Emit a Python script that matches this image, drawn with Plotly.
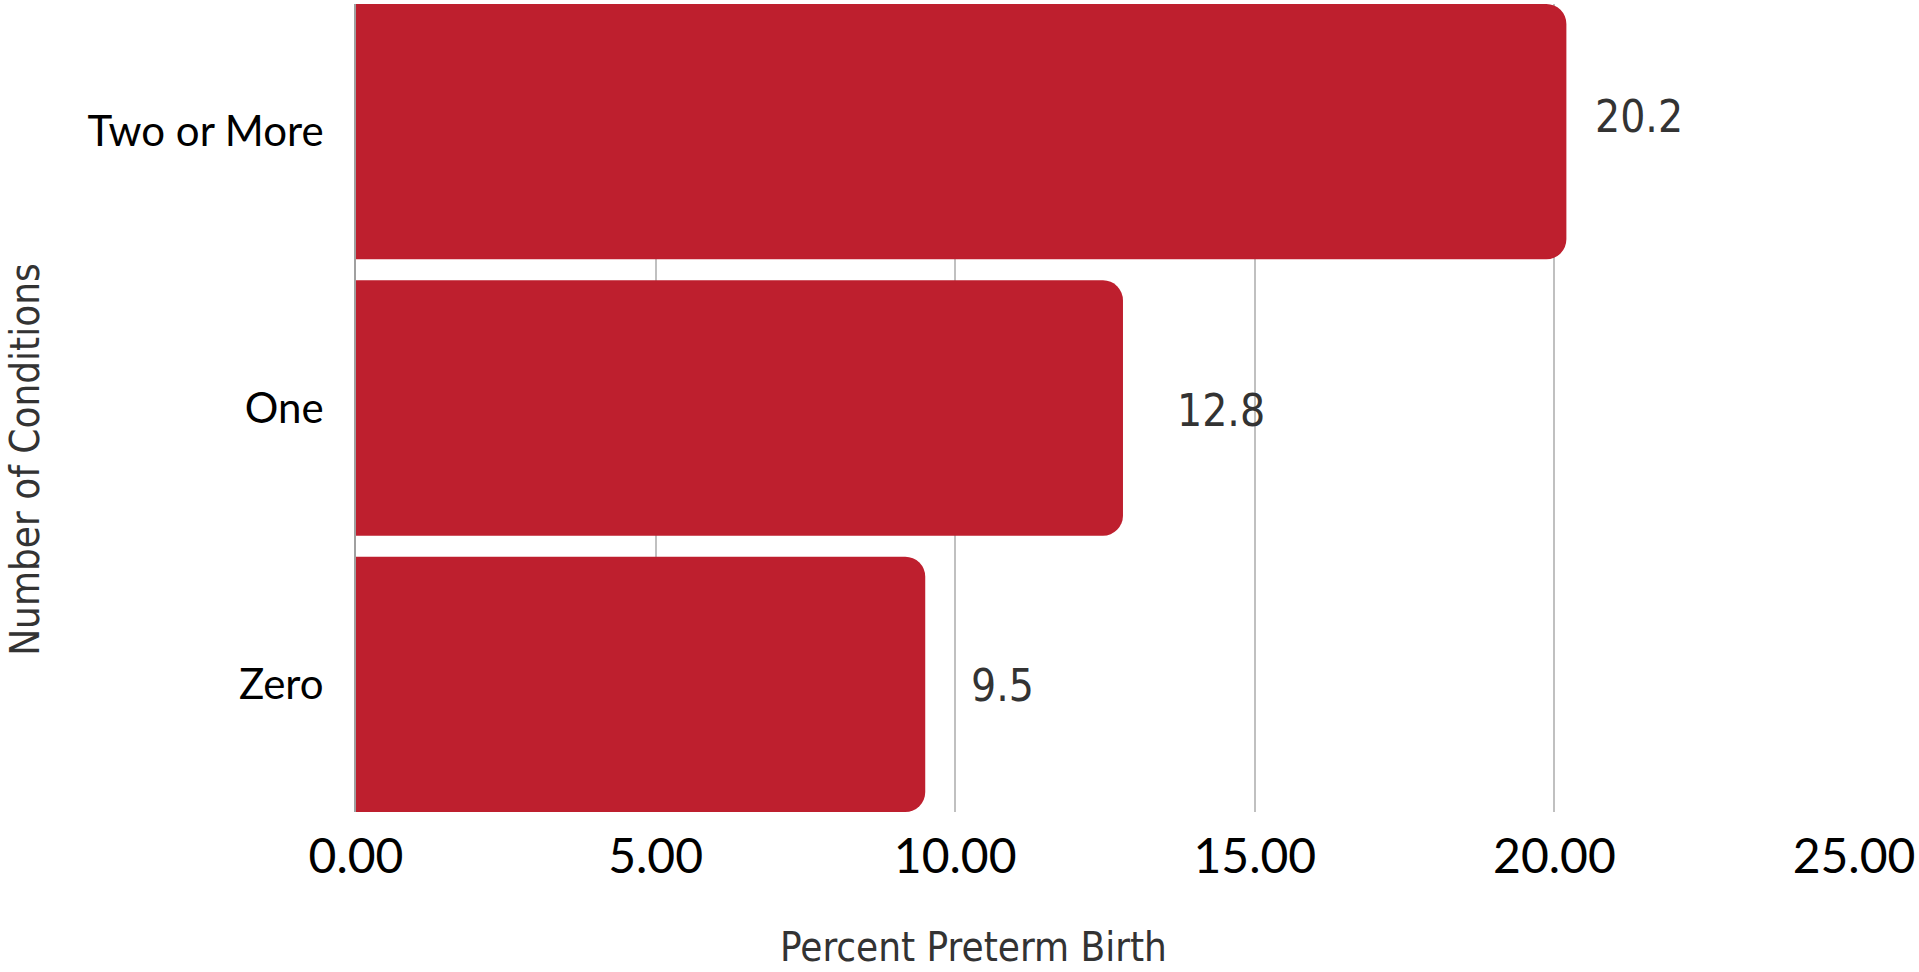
import plotly.graph_objects as go

# Preterm birth rate by number of conditions
categories = ["Zero", "One", "Two or More"]
percent_preterm = [9.5, 12.8, 20.2]
x_ticks = [0, 5, 10, 15, 20, 25]
x_tick_labels = ["0.00", "5.00", "10.00", "15.00", "20.00", "25.00"]

BAR_COLOR = "#BE1F2E"
GRID_COLOR = "#C0C0C0"
LABEL_FONT = "DejaVu Sans Condensed, Liberation Sans Narrow, Roboto, sans-serif"
TICK_FONT = "Lato, Noto Sans, sans-serif"

fig = go.Figure(
    go.Bar(
        x=percent_preterm,
        y=categories,
        orientation="h",
        marker=dict(color=BAR_COLOR, line=dict(width=0), cornerradius=20),
        hoverinfo="skip",
    )
)

# value labels placed to the right of each bar end
label_offsets = {"Zero": (77, -1), "One": (98, -2), "Two or More": (73, 15)}
for cat, val in zip(categories, percent_preterm):
    dx, dy = label_offsets[cat]
    fig.add_annotation(
        x=val, y=cat, xref="x", yref="y",
        text=f"{val:.1f}", showarrow=False,
        xanchor="center", yanchor="middle",
        xshift=dx, yshift=dy,
        font=dict(family=LABEL_FONT, size=44, color="#333333"),
    )

# axis titles
fig.add_annotation(
    x=0.412, y=-0.167, xref="paper", yref="paper",
    text="Percent Preterm Birth", showarrow=False,
    xanchor="center", yanchor="middle",
    font=dict(family=LABEL_FONT, size=40, color="#333333"),
)
fig.add_annotation(
    x=-0.221, y=0.437, xref="paper", yref="paper",
    text="Number of Conditions", showarrow=False, textangle=-90,
    xanchor="center", yanchor="middle",
    font=dict(family=LABEL_FONT, size=40, color="#333333"),
)

fig.update_layout(
    width=1919, height=972,
    margin=dict(l=356, r=62, t=4, b=160, pad=0),
    paper_bgcolor="white", plot_bgcolor="white",
    bargap=0.076,
    showlegend=False,
    xaxis=dict(
        range=[0, 25], tickvals=x_ticks, ticktext=x_tick_labels,
        showgrid=True, gridcolor=GRID_COLOR, gridwidth=2,
        zeroline=False, showline=False, ticks="",
        ticklabelstandoff=12,
        tickfont=dict(family=TICK_FONT, size=48, color="#000000"),
        fixedrange=True,
    ),
    yaxis=dict(
        categoryorder="array", categoryarray=categories,
        range=[-0.462, 2.462], autorange=False,
        showgrid=False, zeroline=False,
        showline=True, linecolor="#A0A0A0", linewidth=2,
        ticks="", ticklabelstandoff=22,
        tickfont=dict(family=TICK_FONT, size=42, color="#000000"),
        fixedrange=True,
    ),
)

fig.write_html("out.html", config={"displayModeBar": False})
